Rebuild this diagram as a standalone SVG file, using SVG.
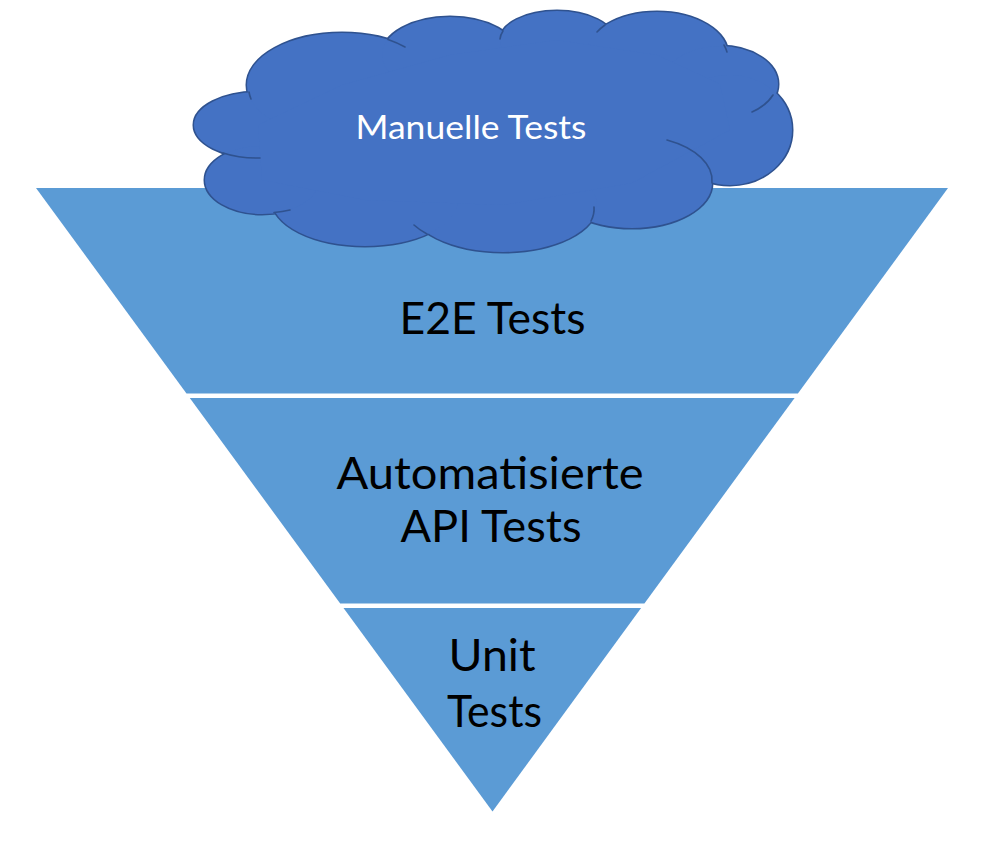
<svg xmlns="http://www.w3.org/2000/svg" width="996" height="844" viewBox="0 0 996 844">
  <style>
    .band { fill: #5B9BD5; }
    .lbl { font-family: Lato, "Open Sans", "Liberation Sans", sans-serif; font-size: 44px; fill: #000000; text-anchor: middle; }
    .cloud-text { font-family: Lato, "Open Sans", "Liberation Sans", sans-serif; font-size: 32px; fill: #FFFFFF; text-anchor: middle; }
    .lobe-s { fill: #4472C4; stroke: #2F528F; stroke-width: 3; }
    .lobe-f { fill: #4472C4; stroke: none; }
    .tail { fill: none; stroke: #2F528F; stroke-width: 1.6; stroke-linecap: round; }
  </style>
  <defs>
    <g id="lobes">
      <ellipse cx="258" cy="125" rx="64" ry="33"/>
      <ellipse cx="342" cy="85" rx="95" ry="52"/>
      <ellipse cx="450" cy="55" rx="68" ry="38"/>
      <ellipse cx="557" cy="40" rx="57" ry="29"/>
      <ellipse cx="657" cy="55" rx="71" ry="43"/>
      <ellipse cx="720" cy="84" rx="58" ry="38"/>
      <ellipse cx="730" cy="130" rx="62" ry="55"/>
      <ellipse cx="632" cy="183" rx="80" ry="45"/>
      <ellipse cx="503" cy="205" rx="94" ry="47"/>
      <ellipse cx="365" cy="200" rx="93" ry="46"/>
      <ellipse cx="262" cy="180" rx="57" ry="34"/>
    </g>
  </defs>

  <g id="e2e-tests">
    <polygon class="band" points="36,188 948,188 797.9,393.5 186.5,393.5"/>
    <text class="lbl" x="492.5" y="333.5" textLength="186" lengthAdjust="spacingAndGlyphs">E2E Tests</text>
  </g>
  <g id="api-tests">
    <polygon class="band" points="189.8,398 794.6,398 644.4,603.5 340.2,603.5"/>
    <text class="lbl"><tspan x="490" y="488.5" textLength="307" lengthAdjust="spacingAndGlyphs">Automatisierte</tspan><tspan x="491" y="542" textLength="181" lengthAdjust="spacingAndGlyphs">API Tests</tspan></text>
  </g>
  <g id="unit-tests">
    <polygon class="band" points="343.5,608 641.1,608 492.5,811.5"/>
    <text class="lbl"><tspan x="492" y="671" textLength="87" lengthAdjust="spacingAndGlyphs">Unit</tspan><tspan x="494.5" y="727" textLength="95" lengthAdjust="spacingAndGlyphs">Tests</tspan></text>
  </g>

  <g id="manual-tests">
    <use href="#lobes" class="lobe-s"/>
    <use href="#lobes" class="lobe-f"/>
    <polygon class="lobe-f" points="258,125 342,85 450,55 557,40 657,55 720,84 730,130 632,183 503,205 365,200 262,180"/>
    <path class="tail" d="M388,39.5 A95,52 0 0 1 405,47"/>
    <path class="tail" d="M249,92 A95,52 0 0 0 251,99"/>
    <path class="tail" d="M503,31 A57,29 0 0 0 500,39"/>
    <path class="tail" d="M605,25 A71,43 0 0 0 597,32"/>
    <path class="tail" d="M724,45 A71,43 0 0 1 727,52"/>
    <path class="tail" d="M773,95 A58,38 0 0 1 752,112"/>
    <path class="tail" d="M712,183 A80,45 0 0 0 667,140"/>
    <path class="tail" d="M591,221 A94,47 0 0 0 594,207"/>
    <path class="tail" d="M427,234 A94,47 0 0 1 414,225"/>
    <path class="tail" d="M274,212.5 A57,34 0 0 0 290,210"/>
    <path class="tail" d="M223,153 A64,33 0 0 0 260,158"/>
    <text class="cloud-text" x="471" y="138.5" textLength="231" lengthAdjust="spacingAndGlyphs">Manuelle Tests</text>
  </g>
</svg>
